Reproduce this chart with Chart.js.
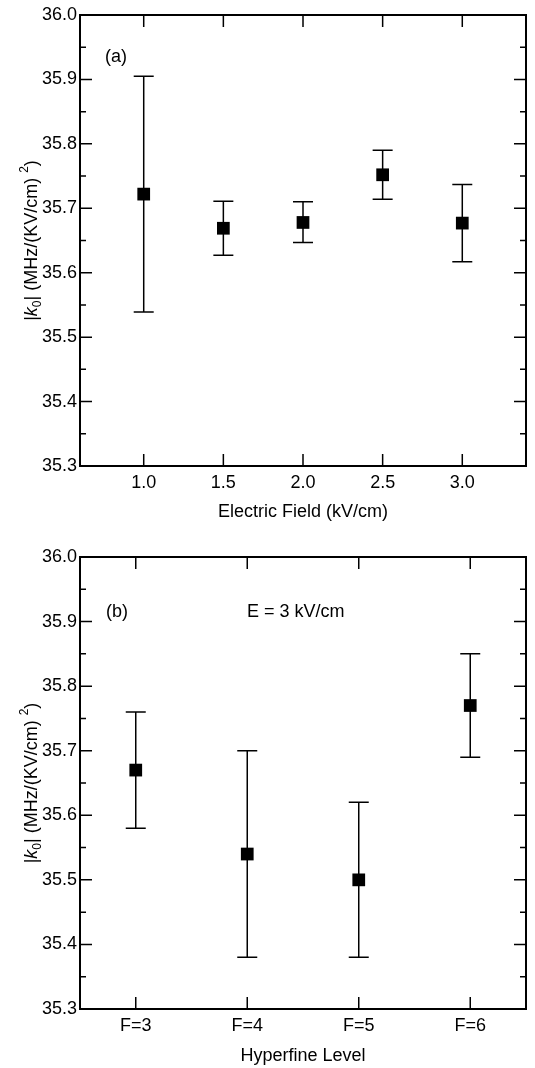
<!DOCTYPE html>
<html>
<head>
<meta charset="utf-8">
<script src="https://cdn.jsdelivr.net/npm/chart.js@4.4.0/dist/chart.umd.min.js"></script>
<style>
  body { margin: 0; background: #fff; }
  canvas { position: absolute; left: 0; }
</style>
</head>
<body>
<canvas id="campo" width="535" height="534" style="top:0"></canvas>
<canvas id="nivel" width="535" height="534" style="top:534px"></canvas>
<script>
// (a) campo electrico
const campoKV = [1.0, 1.5, 2.0, 2.5, 3.0];
const k0Campo = [35.722, 35.669, 35.678, 35.752, 35.677];
const k0CampoAlto = [35.905, 35.711, 35.710, 35.790, 35.737];
const k0CampoBajo = [35.539, 35.627, 35.647, 35.714, 35.617];
const ticksCampo = [1.0, 1.5, 2.0, 2.5, 3.0];

// (b) nivel hiperfino
const niveles = ['F=3', 'F=4', 'F=5', 'F=6'];
const k0Nivel = [35.67, 35.54, 35.50, 35.77];
const k0NivelAlto = [35.76, 35.70, 35.62, 35.85];
const k0NivelBajo = [35.58, 35.38, 35.38, 35.69];

const FUENTE = '"Liberation Sans", Arial, sans-serif';
Chart.defaults.font.family = FUENTE;
Chart.defaults.font.size = 18;
Chart.defaults.color = '#000';

// marco y ticks hacia adentro
const marco = {
  id: 'marco',
  afterDraw(chart) {
    const { ctx, chartArea: a, scales: { x, y } } = chart;
    ctx.save();
    ctx.strokeStyle = '#000';
    ctx.lineWidth = 1.5;
    ctx.beginPath();
    y.ticks.forEach((t, i) => {
      const py = y.getPixelForValue(t.value);
      ctx.moveTo(a.left, py); ctx.lineTo(a.left + 12, py);
      ctx.moveTo(a.right, py); ctx.lineTo(a.right - 12, py);
      if (i < y.ticks.length - 1) {
        const pm = y.getPixelForValue((t.value + y.ticks[i + 1].value) / 2);
        ctx.moveTo(a.left, pm); ctx.lineTo(a.left + 6, pm);
        ctx.moveTo(a.right, pm); ctx.lineTo(a.right - 6, pm);
      }
    });
    x.ticks.forEach((t, i) => {
      const px = x.getPixelForTick(i);
      ctx.moveTo(px, a.bottom); ctx.lineTo(px, a.bottom - 12);
      ctx.moveTo(px, a.top); ctx.lineTo(px, a.top + 12);
    });
    ctx.stroke();
    ctx.lineWidth = 2;
    ctx.strokeRect(a.left, a.top, a.right - a.left, a.bottom - a.top);
    ctx.restore();
  }
};

// barras de error
const barras = {
  id: 'barras',
  beforeDatasetsDraw(chart, args, opts) {
    const { ctx, scales: { y } } = chart;
    const pts = chart.getDatasetMeta(0).data;
    ctx.save();
    ctx.strokeStyle = '#000';
    ctx.lineWidth = 1.5;
    ctx.beginPath();
    pts.forEach((p, i) => {
      const y1 = y.getPixelForValue(opts.alto[i]);
      const y2 = y.getPixelForValue(opts.bajo[i]);
      ctx.moveTo(p.x, y1); ctx.lineTo(p.x, y2);
      ctx.moveTo(p.x - 10, y1); ctx.lineTo(p.x + 10, y1);
      ctx.moveTo(p.x - 10, y2); ctx.lineTo(p.x + 10, y2);
    });
    ctx.stroke();
    ctx.restore();
  }
};

// textos: titulo del eje y y anotaciones
const textos = {
  id: 'textos',
  afterDraw(chart, args, opts) {
    const { ctx, chartArea: a } = chart;
    ctx.save();
    ctx.fillStyle = '#000';
    ctx.textBaseline = 'middle';
    ctx.textAlign = 'left';
    ctx.font = '18px ' + FUENTE;
    opts.notas.forEach(n => ctx.fillText(n.t, a.left + n.dx, a.top + n.dy));

    const partes = [
      { t: '|', f: '18px' },
      { t: 'k', f: 'italic 18px' },
      { t: '0', f: '12px', dy: 4 },
      { t: '| (MHz/(KV/cm) ', f: '18px' },
      { t: '2', f: '12px', dy: -9 },
      { t: ')', f: '18px' }
    ];
    let w = 0;
    partes.forEach(p => { ctx.font = p.f + ' ' + FUENTE; p.w = ctx.measureText(p.t).width; w += p.w; });
    ctx.translate(37, (a.top + a.bottom) / 2);
    ctx.rotate(-Math.PI / 2);
    ctx.textBaseline = 'alphabetic';
    let cx = -w / 2;
    partes.forEach(p => {
      ctx.font = p.f + ' ' + FUENTE;
      ctx.fillText(p.t, cx, p.dy || 0);
      cx += p.w;
    });
    ctx.restore();
  }
};

function ejeY() {
  return {
    min: 35.3, max: 36.0,
    grid: { display: false, drawTicks: false }, border: { display: false },
    ticks: { stepSize: 0.1, padding: 3, callback: v => v.toFixed(1) },
    afterFit: s => { s.width = 80; }
  };
}

new Chart(document.getElementById('campo'), {
  type: 'scatter',
  data: {
    datasets: [{
      data: campoKV.map((v, i) => ({ x: v, y: k0Campo[i] })),
      pointStyle: 'rect', pointRadius: 9, backgroundColor: '#000', borderWidth: 0
    }]
  },
  options: {
    responsive: false, animation: false, devicePixelRatio: 1,
    layout: { padding: { top: 15, right: 5 } },
    plugins: {
      legend: { display: false }, tooltip: { enabled: false },
      barras: { alto: k0CampoAlto, bajo: k0CampoBajo },
      textos: { notas: [{ t: '(a)', dx: 25, dy: 42 }] }
    },
    scales: {
      x: {
        type: 'linear', min: 0.6, max: 3.4,
        grid: { display: false, drawTicks: false }, border: { display: false },
        afterBuildTicks: s => { s.ticks = ticksCampo.map(v => ({ value: v })); },
        ticks: { padding: 6, callback: v => v.toFixed(1) },
        title: { display: true, text: 'Electric Field (kV/cm)', padding: { top: 0, bottom: 11 } },
        afterFit: s => { s.height = 68; }
      },
      y: ejeY()
    }
  },
  plugins: [barras, marco, textos]
});

new Chart(document.getElementById('nivel'), {
  type: 'line',
  data: {
    labels: niveles,
    datasets: [{
      data: k0Nivel, showLine: false,
      pointStyle: 'rect', pointRadius: 9, backgroundColor: '#000', borderWidth: 0
    }]
  },
  options: {
    responsive: false, animation: false, devicePixelRatio: 1,
    layout: { padding: { top: 23, right: 5 } },
    plugins: {
      legend: { display: false }, tooltip: { enabled: false },
      barras: { alto: k0NivelAlto, bajo: k0NivelBajo },
      textos: { notas: [{ t: '(b)', dx: 26, dy: 55 }, { t: 'E = 3 kV/cm', dx: 167, dy: 55 }] }
    },
    scales: {
      x: {
        type: 'category', offset: true,
        grid: { display: false, drawTicks: false }, border: { display: false },
        ticks: { padding: 6 },
        title: { display: true, text: 'Hyperfine Level', padding: { top: 0, bottom: 1 } },
        afterFit: s => { s.height = 59; }
      },
      y: ejeY()
    }
  },
  plugins: [barras, marco, textos]
});
</script>
</body>
</html>
